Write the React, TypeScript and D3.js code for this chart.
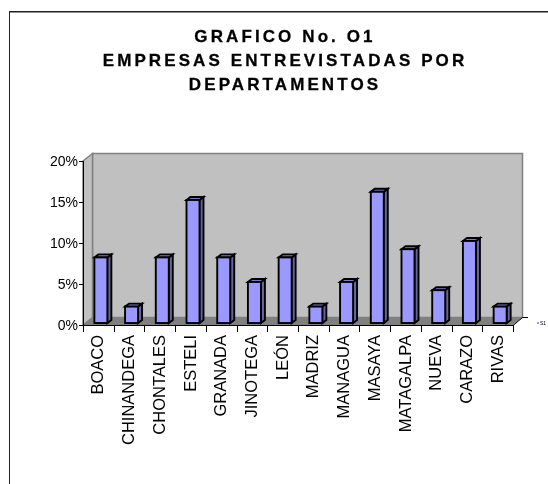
import React from "react";
import * as d3 from "d3";

const categories = ["BOACO","CHINANDEGA","CHONTALES","ESTELI","GRANADA","JINOTEGA","LEÓN","MADRIZ","MANAGUA","MASAYA","MATAGALPA","NUEVA","CARAZO","RIVAS"];
const values = [8,2,8,15,8,5,8,2,5,16,9,4,10,2];
const yTicks = [0,5,10,15,20];
const titleLines = ["GRAFICO No. O1","EMPRESAS ENTREVISTADAS POR","DEPARTAMENTOS"];

const FONT = "'Liberation Sans', Arial, sans-serif";
const x0 = 83, x1 = 513, yBase = 325, yTop = 161, dx = 9.5, dy = -7.5;

export default function App() {
  const x = d3.scaleBand<string>().domain(categories).range([x0, x1]);
  const y = d3.scaleLinear().domain([0, 20]).range([yBase, yTop]);
  const bw = x.bandwidth();
  const barW = 13, depth = 4, lift = 2;
  return (
    <svg width={548} height={484} style={{ position: "absolute", left: 0, top: 0, background: "#fff" }}>
      <defs>
        <filter id="soft" x="0" y="0" width="100%" height="100%">
          <feGaussianBlur stdDeviation={0.35} />
        </filter>
      </defs>
      <g filter="url(#soft)">
        <path d="M9 484V11.5H548" fill="none" stroke="#222" strokeWidth={2} />
        {titleLines.map((t, i) => (
          <text key={t} x={285} y={42 + i * 24} textAnchor="middle" fontFamily={FONT} fontWeight="bold" fontSize={17} letterSpacing={3.1} fill="#000" stroke="#000" strokeWidth={0.3}>{t}</text>
        ))}
        {/* walls */}
        <rect x={x0 + dx} y={yTop + dy} width={x1 - x0} height={yBase - yTop} fill="#c0c0c0" stroke="#808080" strokeWidth={1.5} />
        <path d={`M${x0} ${yTop}L${x0 + dx} ${yTop + dy}V${yBase + dy}L${x0} ${yBase}Z`} fill="#c0c0c0" stroke="#808080" strokeWidth={1.5} />
        <path d={`M${x0} ${yBase}L${x0 + dx} ${yBase + dy}H${x1 + dx}L${x1} ${yBase}Z`} fill="#808080" />
        {/* bars */}
        {categories.map((c, i) => {
          const bx = x(c)! + (bw - barW) / 2 + 2.5;
          const by = y(values[i]) - lift, yb = yBase - lift;
          return (
            <g key={c} stroke="#000" strokeWidth={1.9} strokeLinejoin="miter">
              <path d={`M${bx + barW} ${by}l${depth} ${-3}V${yb - 3}l${-depth} 3Z`} fill="#666699" />
              <path d={`M${bx} ${by}l${depth} ${-3}h${barW}l${-depth} 3Z`} fill="#7a7acc" />
              <rect x={bx} y={by} width={barW} height={yb - by} fill="#9999ff" />
            </g>
          );
        })}
        {/* axes */}
        <path d={`M${x0 + .5} ${yTop}V${yBase + .5}H${x1}`} fill="none" stroke="#000" />
        <path d={`M${x1} ${yBase + .5}L${x1 + dx} ${yBase + dy}H${x1 + 15}`} fill="none" stroke="#000" />
        {yTicks.map(t => (
          <g key={t}>
            <line x1={x0 - 4} x2={x0} y1={y(t) + .5} y2={y(t) + .5} stroke="#000" />
            <text x={78} y={y(t) + 5} textAnchor="end" fontFamily={FONT} fontSize={14} fill="#000">{t}%</text>
          </g>
        ))}
        {[...categories.map(c => x(c)!), x1].map((p, i) => (
          <line key={i} x1={Math.round(p) + .5} x2={Math.round(p) + .5} y1={yBase} y2={yBase + 7} stroke="#000" />
        ))}
        {categories.map(c => {
          const cx = x(c)! + bw / 2 + 5;
          return (
            <text key={c} transform={`translate(${cx},335) rotate(-90)`} textAnchor="end" fontFamily={FONT} fontSize={16.5} fill="#000">{c}</text>
          );
        })}
        <rect x={537} y={322} width={2} height={2} fill="#9999ff" />
        <text x={540} y={325} fontFamily={FONT} fontSize={5} fill="#000">S1</text>
      </g>
    </svg>
  );
}
